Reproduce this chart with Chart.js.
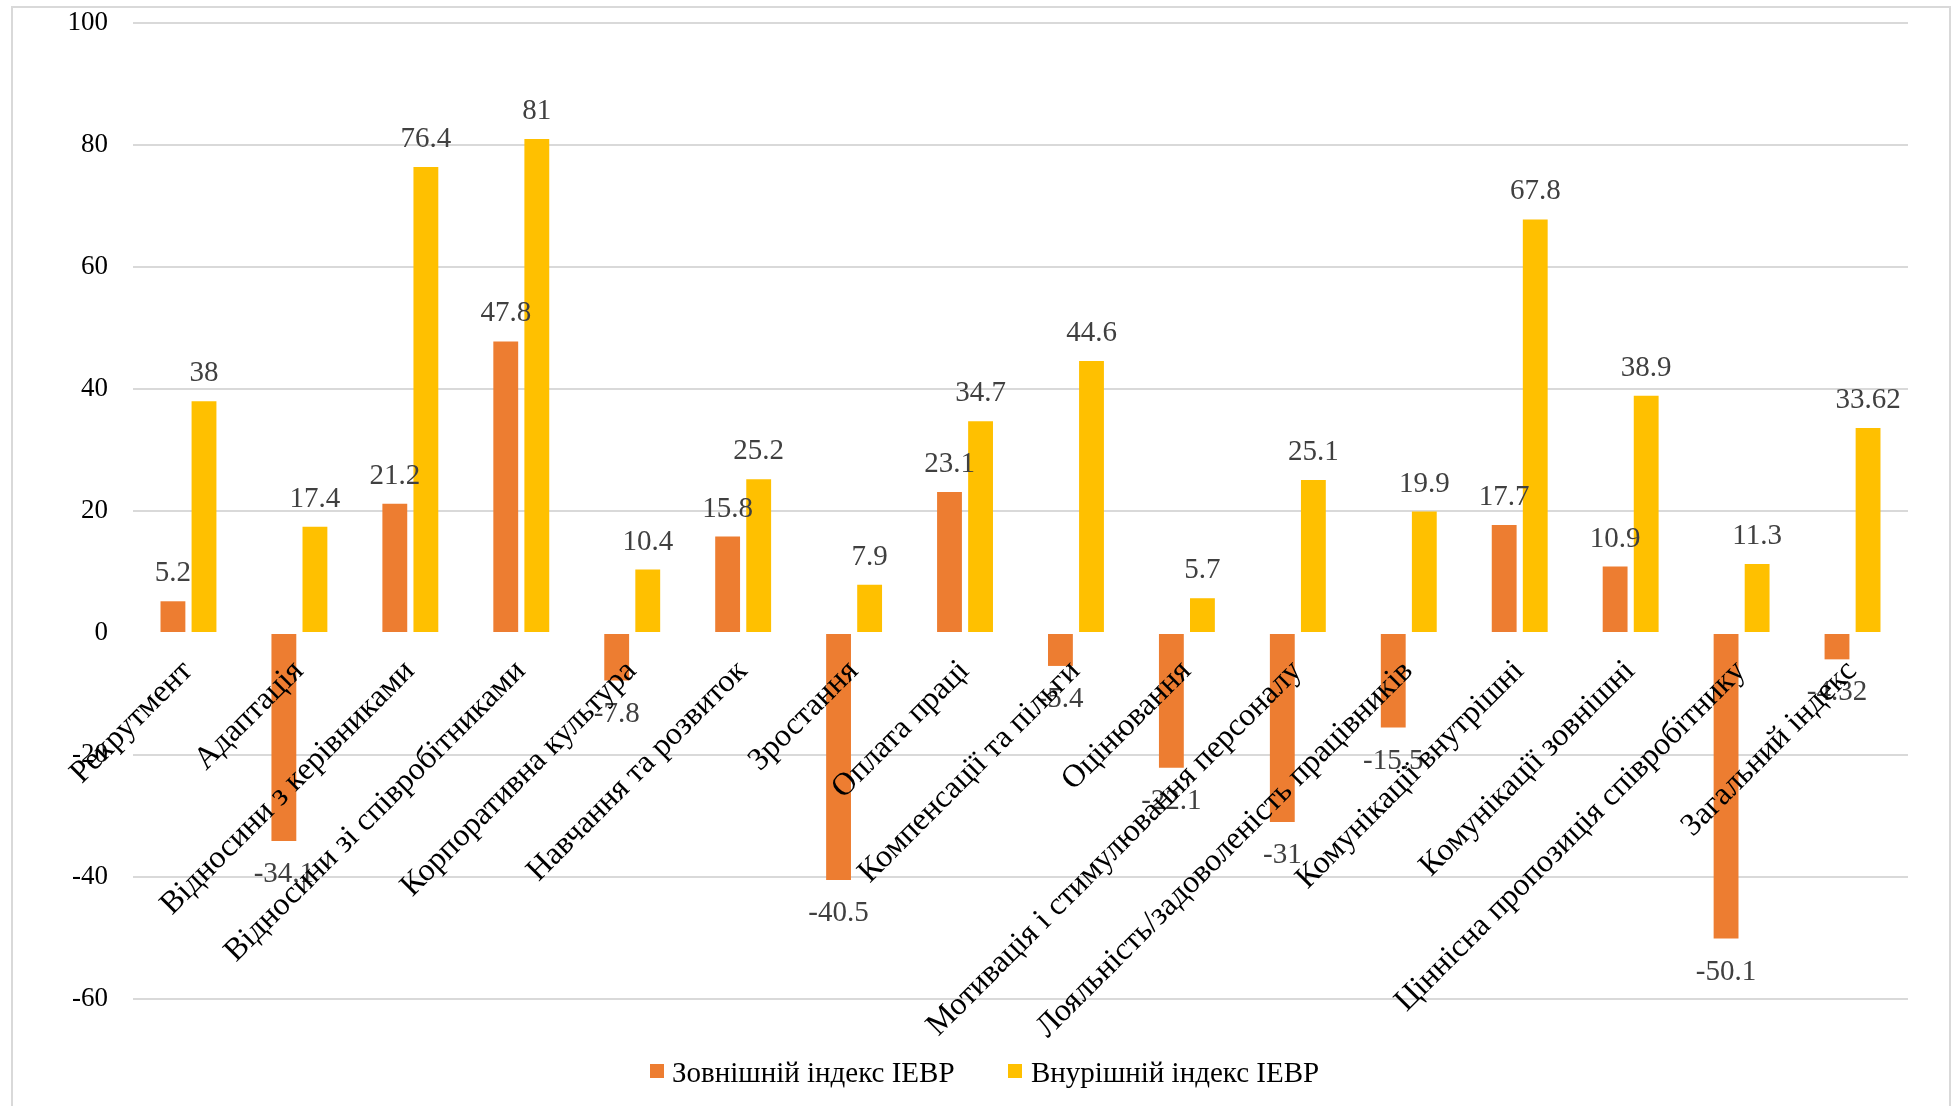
<!DOCTYPE html>
<html>
<head>
<meta charset="utf-8">
<script src="https://cdn.jsdelivr.net/npm/chart.js@4.4.1/dist/chart.umd.min.js"></script>
<style>
  html, body { margin: 0; padding: 0; background: #fff; }
  #wrap { width: 1952px; height: 1106px; }
</style>
</head>
<body>
<div id="wrap"><canvas id="chartArea" width="1952" height="1106"></canvas></div>
<script>
// категорії
const categories = [
  'Рекрутмент',
  'Адаптація',
  'Відносини з керівниками',
  'Відносини зі співробітниками',
  'Корпоративна культура',
  'Навчання та розвиток',
  'Зростання',
  'Оплата праці',
  'Компенсації та пільги',
  'Оцінювання',
  'Мотивація і стимулювання персоналу',
  'Лояльність/задоволеність працівників',
  'Комунікації внутрішні',
  'Комунікації зовнішні',
  'Ціннісна пропозиція співробітнику',
  'Загальний індекс',
];

const outerIndex = [5.2, -34.1, 21.2, 47.8, -7.8, 15.8, -40.5, 23.1, -5.4, -22.1, -31, -15.5, 17.7, 10.9, -50.1, -4.32];
const innerIndex = [38, 17.4, 76.4, 81, 10.4, 25.2, 7.9, 34.7, 44.6, 5.7, 25.1, 19.9, 67.8, 38.9, 11.3, 33.62];

const seriesNames = ['Зовнішній індекс IEBP', 'Внурішній індекс IEBP'];
const seriesColors = ['#ED7D31', '#FFC000'];

const yTicks = [-60, -40, -20, 0, 20, 40, 60, 80, 100];

const FONT = "'Liberation Serif', 'Times New Roman', serif";

// рамка навколо діаграми
const framePlugin = {
  id: 'frame',
  beforeDraw(chart) {
    const ctx = chart.ctx;
    ctx.save();
    ctx.fillStyle = '#fff';
    ctx.fillRect(0, 0, chart.width, chart.height);
    ctx.strokeStyle = '#d9d9d9';
    ctx.lineWidth = 2;
    ctx.strokeRect(12, 7, 1938, 1110);
    ctx.restore();
  },
};

// підписи значень, категорій і легенда
const labelsPlugin = {
  id: 'labels',
  afterDatasetsDraw(chart) {
    const ctx = chart.ctx;
    const x = chart.scales.x;
    const y = chart.scales.y;
    const y0 = y.getPixelForValue(0);

    ctx.save();
    // значення
    ctx.font = '29px ' + FONT;
    ctx.fillStyle = '#404040';
    ctx.textAlign = 'center';
    chart.data.datasets.forEach((ds, di) => {
      const meta = chart.getDatasetMeta(di);
      meta.data.forEach((bar, i) => {
        const v = ds.data[i];
        if (v >= 0) {
          ctx.textBaseline = 'alphabetic';
          ctx.fillText(String(v), bar.x, bar.y - 20);
        } else {
          ctx.textBaseline = 'top';
          ctx.fillText(String(v), bar.x, bar.y + 19);
        }
      });
    });

    // категорії
    ctx.font = '32px ' + FONT;
    ctx.fillStyle = '#000';
    ctx.textAlign = 'right';
    ctx.textBaseline = 'top';
    categories.forEach((c, i) => {
      const px = x.getPixelForValue(i);
      ctx.save();
      ctx.translate(px - 12, y0 + 22);
      ctx.rotate(-Math.PI / 4);
      ctx.fillText(c, 0, 0);
      ctx.restore();
    });

    // легенда
    const items = [
      { box: 650, text: 672 },
      { box: 1008, text: 1031 },
    ];
    ctx.font = '29px ' + FONT;
    ctx.textAlign = 'left';
    ctx.textBaseline = 'alphabetic';
    items.forEach((it, i) => {
      ctx.fillStyle = seriesColors[i];
      ctx.fillRect(it.box, 1064, 14, 14);
      ctx.fillStyle = '#000';
      ctx.fillText(seriesNames[i], it.text, 1082);
    });
    ctx.restore();
  },
};

const chartArea = document.getElementById('chartArea');

new Chart(chartArea, {
  type: 'bar',
  data: {
    labels: categories,
    datasets: [
      {
        label: seriesNames[0],
        data: outerIndex,
        backgroundColor: seriesColors[0],
        categoryPercentage: 0.56,
        barPercentage: 0.8,
      },
      {
        label: seriesNames[1],
        data: innerIndex,
        backgroundColor: seriesColors[1],
        categoryPercentage: 0.56,
        barPercentage: 0.8,
      },
    ],
  },
  options: {
    responsive: false,
    animation: false,
    devicePixelRatio: 1,
    layout: {
      padding: { left: 13, right: 44, top: 23, bottom: 107 },
    },
    scales: {
      x: {
        ticks: { display: false },
        grid: { display: false },
        border: { display: false },
        afterFit: (s) => {
          s.height = 0;
          s.paddingLeft = 0;
          s.paddingRight = 0;
        },
      },
      y: {
        min: -60,
        max: 100,
        afterBuildTicks: (s) => { s.ticks = yTicks.map((v) => ({ value: v })); },
        afterFit: (s) => {
          s.width = 120;
          s.paddingTop = 0;
          s.paddingBottom = 0;
        },
        ticks: {
          color: '#000',
          font: { family: FONT, size: 27 },
          padding: 25,
        },
        grid: {
          color: (c) => (c.tick && c.tick.value === 0 ? 'rgba(0,0,0,0)' : '#d9d9d9'),
          lineWidth: 2,
          drawTicks: false,
        },
        border: { display: false },
      },
    },
    plugins: {
      legend: { display: false },
      tooltip: { enabled: false },
    },
  },
  plugins: [framePlugin, labelsPlugin],
});
</script>
</body>
</html>
